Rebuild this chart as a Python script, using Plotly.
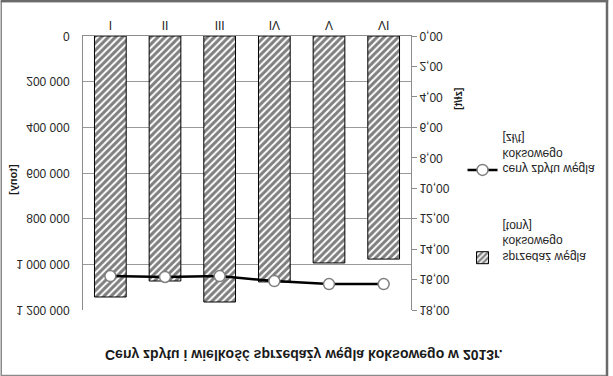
import plotly.graph_objects as go

# ---- data ----
months = ["I", "II", "III", "IV", "V", "VI"]
sales_tons = [1143000, 1073000, 1165000, 1077000, 994000, 977000]
price_zl_t = [15.77, 15.83, 15.77, 16.10, 16.30, 16.30]
left_ticks = [0, 200000, 400000, 600000, 800000, 1000000, 1200000]
right_ticks = [0, 2, 4, 6, 8, 10, 12, 14, 16, 18]

W, H = 613, 376
ML, MR, MT, MB = 83, 199, 66, 36
PW, PH = W - ML - MR, H - MT - MB


def px_x(px):
    return (px - ML) / PW


def px_y(py):
    return (H - MB - py) / PH


FONT = "Liberation Sans"

fig = go.Figure()
fig.add_trace(go.Bar(
    x=months, y=sales_tons,
    name="sprzedaż węgla<br>koksowego<br>[tony]",
    legendgroup="a",
    marker=dict(color="white", line=dict(color="black", width=1),
                pattern=dict(shape="\\", fgcolor="black", bgcolor="white",
                             size=5, solidity=0.6)),
    yaxis="y",
))
fig.add_trace(go.Scatter(
    x=months, y=price_zl_t,
    name="ceny zbytu węgla<br>koksowego<br>[zł/t]",
    legendgroup="b",
    mode="lines+markers",
    line=dict(color="black", width=2.5),
    marker=dict(symbol="circle", size=11, color="white",
                line=dict(color="#7f7f7f", width=1.5)),
    yaxis="y2",
))

shapes = [
    dict(type="rect", xref="paper", yref="paper",
         x0=px_x(0.5), x1=px_x(W - 1), y0=px_y(H - 1.5), y1=px_y(0.5),
         line=dict(color="#8a8a8a", width=1.5), fillcolor="rgba(0,0,0,0)",
         layer="below"),
    dict(type="line", xref="paper", yref="paper",
         x0=px_x(0), x1=px_x(W), y0=px_y(H - 1), y1=px_y(H - 1),
         line=dict(color="#6a6a6a", width=2.5)),
    dict(type="line", xref="paper", yref="paper",
         x0=px_x(W - 1.2), x1=px_x(W - 1.2), y0=px_y(0), y1=px_y(H),
         line=dict(color="#6a6a6a", width=2.5)),
]

annotations = [
    dict(text="<b>Ceny zbytu i wielkość sprzedaży węgla koksowego w 2013r.</b>",
         xref="paper", yref="paper", x=px_x(W / 2), y=px_y(21),
         xanchor="center", yanchor="middle",
         showarrow=False, font=dict(family=FONT, size=14, color="#1a1a1a")),
    dict(text="<b>[tony]</b>", xref="paper", yref="paper",
         x=px_x(12), y=px_y(196), textangle=-90, showarrow=False,
         xanchor="center", yanchor="middle",
         font=dict(family=FONT, size=11, color="#1a1a1a")),
    dict(text="<b>[zł/t]</b>", xref="paper", yref="paper",
         x=px_x(461), y=px_y(277), textangle=-90, showarrow=False,
         xanchor="center", yanchor="middle",
         font=dict(family=FONT, size=11, color="#1a1a1a")),
]

fig.update_layout(
    width=W, height=H,
    margin=dict(l=ML, r=MR, t=MT, b=MB, pad=0),
    paper_bgcolor="white", plot_bgcolor="white",
    separators=", ",
    font=dict(family=FONT, size=12, color="#262626"),
    bargap=0.42,
    showlegend=True,
    legend=dict(x=px_x(466), y=px_y(104), xanchor="left", yanchor="top",
                valign="top", tracegroupgap=38,
                font=dict(family=FONT, size=12, color="#262626"),
                bgcolor="rgba(0,0,0,0)"),
    xaxis=dict(showline=True, linecolor="#8c8c8c", linewidth=1,
               ticks="", tickfont=dict(size=12), showgrid=False),
    yaxis=dict(range=[0, 1200000], tickvals=left_ticks, tickformat=",d",
               showgrid=True, gridcolor="#9a9a9a", gridwidth=1,
               showline=True, linecolor="#8c8c8c", zeroline=False,
               ticks="", ticklabelstandoff=10),
    yaxis2=dict(range=[0, 18], tickvals=right_ticks, tickformat=".2f",
                overlaying="y", side="right", showgrid=False,
                showline=True, linecolor="#8c8c8c", zeroline=False,
                ticks="outside", ticklen=5, tickcolor="#8c8c8c"),
    shapes=shapes,
    annotations=annotations,
)

# The reference picture is a vertically mirrored chart: mirror the rendered figure.
flip_js = (
    "document.body.style.margin = '0';"
    "var gd = document.getElementById('{plot_id}');"
    "gd.style.transformOrigin = '50% 50%';"
    "gd.style.transform = 'scaleY(-1)';"
)
fig.write_html("out.html", post_script=flip_js,
               config={"displayModeBar": False})
